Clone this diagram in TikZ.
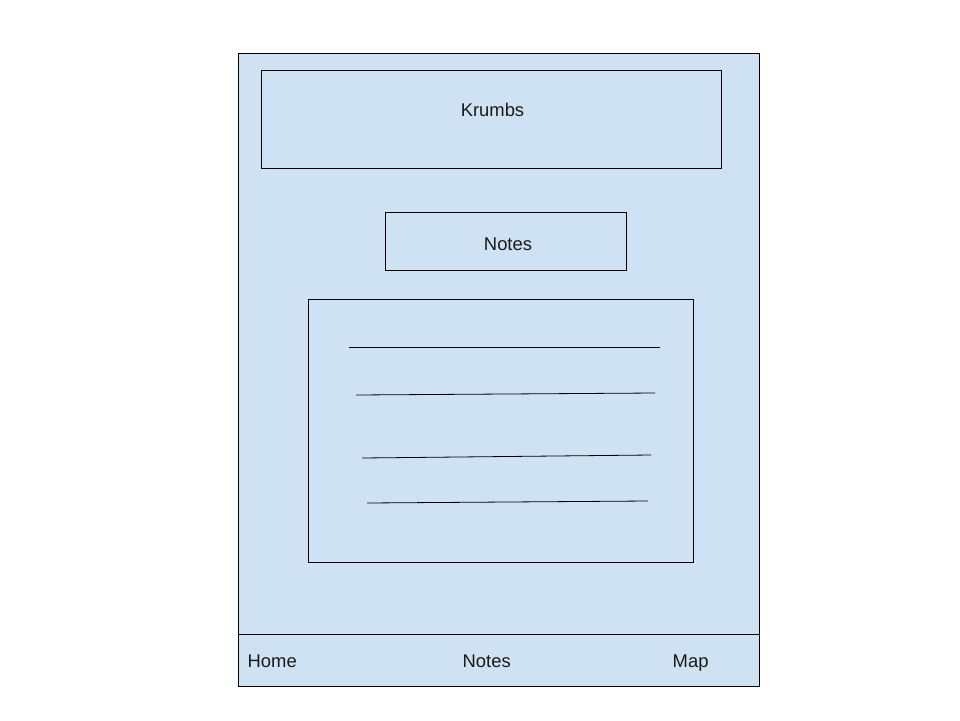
\documentclass[tikz,border=0pt]{standalone}
\usepackage{fontspec}
\setmainfont{Liberation Sans}
\definecolor{panel}{HTML}{CFE2F3}
\begin{document}
\begin{tikzpicture}[x=1pt,y=-1pt,
  box/.style={draw=black,line width=0.8pt,inner sep=0pt},
  lbl/.style={font=\fontsize{18.4}{20}\selectfont,inner sep=0pt,text=black!90},
  rule/.style={draw=black,line width=0.8pt}]
\useasboundingbox[fill=white] (0,0) rectangle (960,720);
\filldraw[fill=panel,draw=black,line width=0.8pt] (238,53) rectangle (759,686);
\node[box,minimum width=460pt,minimum height=98pt] (header) at (491,119) {};
\node[lbl,anchor=base] (title) at (492.5,116) {Krumbs};
\node[box,minimum width=241pt,minimum height=58pt] (notesbox) at (505.5,241) {};
\node[lbl,anchor=base] (notestitle) at (508,250) {Notes};
\node[box,minimum width=385pt,minimum height=263pt] (content) at (500.5,430.5) {};
\draw[rule] (349,347) -- (660,347);
\draw[rule] (356,395) -- (655,393);
\draw[rule] (362,458) -- (651,455);
\draw[rule] (367,503) -- (648,501);
\coordinate (barL) at (238,634);
\coordinate (barR) at (759,634);
\draw[rule] (barL) -- (barR);
\node[lbl,anchor=base west] (home) at (247.5,667) {Home};
\node[lbl,anchor=base west] (notes) at (462.5,667) {Notes};
\node[lbl,anchor=base west] (map) at (672.5,667) {Map};
\end{tikzpicture}
\end{document}
